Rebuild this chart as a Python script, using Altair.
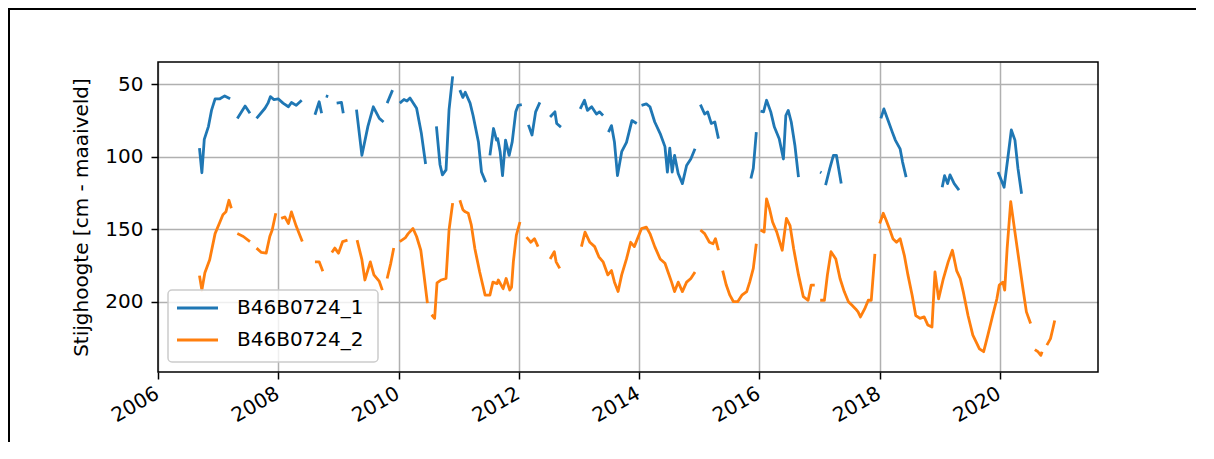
import altair as alt
import pandas as pd
from datetime import datetime

NAMES = ["B46B0724_1", "B46B0724_2"]
COLORS = ["#1f77b4", "#ff7f0e"]
Y_LABEL = "Stijghoogte [cm - maaiveld]"
Y_TICKS = [50, 100, 150, 200]
X_TICK_YEARS = [2006, 2008, 2010, 2012, 2014, 2016, 2018, 2020]

# decimal years; None marks a gap in the record
t1 = [2006.69, 2006.73, 2006.77, 2006.84, 2006.89, 2006.95, 2007.03, 2007.11, 2007.20, None,
      2007.32, 2007.45, 2007.53, None,
      2007.64, 2007.78, 2007.83, 2007.87, 2007.93, 2008.00, 2008.08, 2008.17, 2008.22, 2008.30, 2008.39, None,
      2008.61, 2008.68, 2008.72, None,
      2008.79, 2008.83, None,
      2008.97, 2009.05, 2009.08, None,
      2009.30, 2009.39, 2009.49, 2009.58, 2009.68, 2009.75, None,
      2009.81, 2009.90, None,
      2010.02, 2010.09, 2010.14, 2010.19, 2010.30, 2010.38, 2010.45, None,
      2010.63, 2010.69, 2010.73, 2010.79, 2010.84, 2010.90, None,
      2011.02, 2011.07, 2011.11, 2011.19, 2011.24, 2011.33, 2011.38, 2011.45, None,
      2011.52, 2011.58, 2011.63, 2011.65, 2011.69, 2011.73, 2011.78, 2011.84, 2011.89, 2011.95, 2011.99, 2012.05, None,
      2012.16, 2012.22, 2012.28, 2012.35, None,
      2012.52, 2012.60, 2012.63, 2012.70, None,
      2013.02, 2013.09, 2013.14, 2013.21, 2013.29, 2013.34, 2013.40, None,
      2013.49, 2013.54, 2013.59, 2013.64, 2013.71, 2013.79, 2013.88, 2013.96, None,
      2014.04, 2014.12, 2014.18, 2014.26, 2014.35, 2014.43, 2014.47, 2014.51, 2014.55, 2014.59, 2014.65, 2014.72, 2014.79, 2014.86, 2014.93, None,
      2015.02, 2015.09, 2015.14, 2015.20, 2015.26, 2015.32, None,
      2015.86, 2015.90, 2015.95, None,
      2016.02, 2016.07, 2016.12, 2016.19, 2016.25, 2016.33, 2016.40, 2016.44, 2016.48, 2016.53, 2016.59, 2016.65, None,
      2017.01, 2017.03, None,
      2017.10, 2017.17, 2017.23, 2017.28, 2017.36, None,
      2018.02, 2018.07, 2018.14, 2018.21, 2018.26, 2018.34, 2018.38, 2018.44, None,
      2019.04, 2019.08, 2019.13, 2019.17, 2019.24, 2019.32, None,
      2019.97, 2020.07, 2020.13, 2020.19, 2020.25, 2020.30, 2020.36]
v1 = [94, 111, 88, 79, 68, 60, 60, 58, 60, None,
      73.5, 65, 70, None,
      73.5, 66.5, 63, 58.5, 60.5, 60, 63, 65.5, 62.5, 64.5, 61, None,
      71, 62, 70, None,
      58, 58.5, None,
      63, 62.5, 70, None,
      67.5, 99, 79, 65.5, 73.5, 76, None,
      63, 54, None,
      63, 60.5, 61.5, 59.5, 66.5, 84, 105, None,
      79, 105.5, 112.5, 109, 67.5, 44.5, None,
      54, 59, 55.5, 63, 71.5, 90, 110.5, 117.5, None,
      99, 80.5, 88.5, 87.5, 96.5, 113, 88.5, 99, 90, 69, 64.5, 64, None,
      78, 85, 69, 62.5, None,
      72.5, 69, 77, 79.5, None,
      67, 61, 68, 65.5, 70.5, 69, 71.5, None,
      83, 78.5, 90, 113, 96.5, 90, 75, 77, None,
      64.5, 63.5, 65.5, 76, 84, 93, 110.5, 94, 110.5, 99, 111.5, 118.5, 106, 101.5, 94.5, None,
      64, 70.5, 69, 77, 76, 87.5, None,
      115, 108, 83, None,
      68.5, 69, 61, 69, 79.5, 87.5, 101.5, 71.5, 68, 76, 92, 114, None,
      110.5, 111, None,
      119.5, 108, 99, 99, 118.5, None,
      73.5, 67, 75, 83, 88.5, 94.5, 103.5, 114, None,
      121, 113, 118.5, 112.5, 118.5, 123, None,
      110.5, 121, 101.5, 81.5, 88.5, 108, 125.5]

t2 = [2006.69, 2006.73, 2006.78, 2006.86, 2006.95, 2007.02, 2007.08, 2007.13, 2007.18, 2007.22, None,
      2007.32, 2007.42, 2007.53, None,
      2007.64, 2007.72, 2007.80, 2007.86, 2007.90, 2007.96, None,
      2008.05, 2008.11, 2008.17, 2008.22, 2008.30, 2008.40, None,
      2008.61, 2008.68, 2008.74, None,
      2008.89, 2008.94, 2009.00, 2009.07, 2009.15, None,
      2009.31, 2009.39, 2009.44, 2009.53, 2009.59, 2009.68, 2009.73, None,
      2009.81, 2009.87, 2009.92, None,
      2010.02, 2010.11, 2010.16, 2010.24, 2010.30, 2010.37, 2010.42, 2010.48, None,
      2010.55, 2010.60, 2010.64, 2010.71, 2010.79, 2010.84, 2010.90, None,
      2011.02, 2011.07, 2011.11, 2011.16, 2011.21, 2011.27, 2011.35, 2011.44, 2011.52, 2011.57, 2011.64, 2011.66,
      2011.74, 2011.79, 2011.85, 2011.88, 2011.91, 2011.96, 2012.02, None,
      2012.13, 2012.20, 2012.26, 2012.32, None,
      2012.52, 2012.59, 2012.62, 2012.68, None,
      2013.04, 2013.10, 2013.18, 2013.26, 2013.33, 2013.40, 2013.48, 2013.54, 2013.59, 2013.65, 2013.71, 2013.79,
      2013.86, 2013.92, 2014.04, 2014.12, 2014.18, 2014.26, 2014.35, 2014.43, 2014.49, 2014.54, 2014.59, 2014.65,
      2014.72, 2014.79, 2014.86, 2014.93, None,
      2015.02, 2015.09, 2015.17, 2015.23, 2015.27, 2015.32, None,
      2015.39, 2015.45, 2015.51, 2015.57, 2015.64, 2015.71, 2015.79, 2015.84, 2015.90, 2015.95, None,
      2016.02, 2016.08, 2016.12, 2016.17, 2016.22, 2016.29, 2016.38, 2016.45, 2016.51, 2016.57, 2016.65, 2016.73,
      2016.81, 2016.86, 2016.92, None,
      2017.01, 2017.08, 2017.13, 2017.19, 2017.27, 2017.34, 2017.41, 2017.48, 2017.54, 2017.60, 2017.64, 2017.68,
      2017.75, 2017.81, 2017.86, 2017.92, None,
      2018.00, 2018.06, 2018.11, 2018.17, 2018.22, 2018.28, 2018.34, 2018.41, 2018.47, 2018.54, 2018.60, 2018.67,
      2018.74, 2018.80, 2018.87, 2018.92, 2018.98, 2019.06, 2019.14, 2019.21, 2019.28, 2019.34, 2019.39, 2019.47,
      2019.55, 2019.66, 2019.73, 2019.80, 2019.88, 2019.95, 2019.99, 2020.05, 2020.08, 2020.12, 2020.18, 2020.25,
      2020.32, 2020.39, 2020.44, 2020.51, None,
      2020.58, 2020.63, 2020.68, 2020.70, None,
      2020.78, 2020.84, 2020.88, 2020.91]
v2 = [182, 192, 180, 171, 153, 146, 140, 138, 130, 135.5, None,
      153, 155, 158.5, None,
      163, 166, 166.5, 155, 150.5, 139, None,
      142.5, 141.5, 146, 138, 148, 158.5, None,
      172.5, 172.5, 179, None,
      166, 163, 166.5, 158.5, 157.5, None,
      157.5, 171, 185, 172.5, 181.5, 186, 192, None,
      184, 173.5, 163, None,
      158.5, 156, 153, 149.5, 155, 164.5, 180.5, 201, None,
      209, 211.5, 187, 185, 184, 150.5, 132, None,
      130, 136.5, 138, 139, 147, 163.5, 179.5, 195.5, 195.5, 186.5, 187.5, 185,
      191, 184, 192, 190, 172.5, 154, 145, None,
      155.5, 159, 156.5, 162, None,
      170.5, 165.5, 172.5, 177, None,
      162, 152, 159, 162, 169, 172.5, 181.5, 178.5, 186.5, 193, 181.5, 170.5,
      159, 162, 149.5, 148.5, 153, 162, 170.5, 173.5, 180.5, 186.5, 193, 186.5,
      193, 186.5, 184, 179.5, None,
      150.5, 153, 159, 160, 156.5, 164.5, None,
      178.5, 188.5, 195.5, 200, 200, 195.5, 193, 186.5, 177, 160, None,
      150.5, 152, 129, 136, 145, 152, 164.5, 142.5, 147.5, 163.5, 181.5, 196.5,
      199, 188.5, 188.5, None,
      199, 199, 181.5, 165.5, 170.5, 184, 193, 200, 202.5, 205, 207, 210.5,
      205, 199, 199, 167, None,
      146, 139, 144, 150.5, 156.5, 159, 156.5, 168, 181.5, 195.5, 209.5, 211.5,
      210.5, 216, 217.5, 179.5, 198, 184, 172.5, 164.5, 178.5, 184, 193, 209.5,
      223, 232.5, 234.5, 223, 209.5, 198, 188.5, 186.5, 192, 163.5, 131, 152,
      172.5, 193, 207, 215, None,
      233, 234.5, 237, 234.5, None,
      230, 225.5, 218.5, 213]

X_DOMAIN = (2006.0, 2021.63)
Y_DOMAIN = (34.6, 248.5)


def to_iso(y):
    yr = int(y)
    start = datetime(yr, 1, 1)
    end = datetime(yr + 1, 1, 1)
    d = start + (end - start) * (y - yr)
    return d.strftime("%Y-%m-%dT%H:%M:%S")


def to_dt(y):
    yr = int(y)
    start = datetime(yr, 1, 1)
    end = datetime(yr + 1, 1, 1)
    d = start + (end - start) * (y - yr)
    return alt.DateTime(year=d.year, month=d.month, date=d.day, hours=d.hour)


rows = []
for name, ts, vs in [(NAMES[0], t1, v1), (NAMES[1], t2, v2)]:
    seg = 0
    for t, v in zip(ts, vs):
        if v is None or t is None:
            seg += 1
            continue
        rows.append({"date": to_iso(t), "level": v, "series": name, "seg": f"{name}-{seg}"})
df = pd.DataFrame(rows)

W, H = 940, 310
PAD_L, PAD_T, PAD_R, PAD_B = 150, 54, 98, 70
FONT = "DejaVu Sans"
FS = 20
LW = 2.8

lines = alt.Chart(df).mark_line(strokeWidth=LW, strokeJoin="round", strokeCap="butt").encode(
    x=alt.X(
        "date:T",
        scale=alt.Scale(domain=[to_dt(X_DOMAIN[0]), to_dt(X_DOMAIN[1])], nice=False),
        axis=alt.Axis(
            values=[alt.DateTime(year=y, month=1, date=1) for y in X_TICK_YEARS],
            format="%Y", title=None, labelAngle=330, labelAlign="right",
            labelBaseline="top", labelOffset=-6, labelPadding=4,
        ),
    ),
    y=alt.Y(
        "level:Q",
        scale=alt.Scale(domain=list(Y_DOMAIN), reverse=True, nice=False, zero=False),
        axis=alt.Axis(values=Y_TICKS, title=Y_LABEL, labelPadding=8, titlePadding=13),
    ),
    color=alt.Color("series:N", scale=alt.Scale(domain=NAMES, range=COLORS), legend=None),
    detail="seg:N",
)

one = pd.DataFrame({"k": [0]})

# legend box drawn in matplotlib style (lower-left, inside the axes)
LX0, LX1, LY0, LY1 = 10, 220, 228, 300
legend_box = alt.Chart(one).mark_rect(
    fill="white", fillOpacity=0.8, stroke="#cccccc", strokeWidth=1.5, cornerRadius=4
).encode(x=alt.value(LX0), x2=alt.value(LX1), y=alt.value(LY0), y2=alt.value(LY1))
legend_layers = []
for i, (name, col) in enumerate(zip(NAMES, COLORS)):
    yy = 246 + 32 * i
    legend_layers.append(
        alt.Chart(one).mark_rule(color=col, strokeWidth=LW).encode(
            x=alt.value(19), x2=alt.value(60), y=alt.value(yy), y2=alt.value(yy)
        )
    )
    legend_layers.append(
        alt.Chart(one).mark_text(
            align="left", baseline="middle", font=FONT, fontSize=FS, color="black"
        ).encode(x=alt.value(79), y=alt.value(yy), text=alt.value(name))
    )

box = alt.Chart(one).mark_rect(filled=False, stroke="black", strokeWidth=1.5).encode(
    x=alt.value(0), x2=alt.value(W), y=alt.value(0), y2=alt.value(H)
)
# outer figure frame (top and left edges visible in the reference), drawn as thin filled bars
frame_top = alt.Chart(one).mark_rect(color="black", strokeWidth=0).encode(
    x=alt.value(-PAD_L), x2=alt.value(W + PAD_R), y=alt.value(-PAD_T), y2=alt.value(-PAD_T + 2)
)
frame_left = alt.Chart(one).mark_rect(color="black", strokeWidth=0).encode(
    x=alt.value(-PAD_L), x2=alt.value(-PAD_L + 2), y=alt.value(-PAD_T), y2=alt.value(H + PAD_B)
)

chart = alt.layer(lines, legend_box, *legend_layers, box, frame_top, frame_left).properties(
    width=W, height=H,
    padding={"left": PAD_L, "top": PAD_T, "right": PAD_R, "bottom": PAD_B},
    autosize=alt.AutoSizeParams(type="none"),
    background="white",
).configure_view(strokeWidth=0).configure_axis(
    domain=False, grid=True, gridColor="#b0b0b0", gridWidth=1.5,
    tickColor="black", tickWidth=1.5, tickSize=7,
    labelFont=FONT, labelFontSize=FS, labelColor="black",
    titleFont=FONT, titleFontSize=FS, titleFontWeight="normal", titleColor="black",
)

chart.save("out.html", embed_options={"renderer": "svg", "actions": False})
